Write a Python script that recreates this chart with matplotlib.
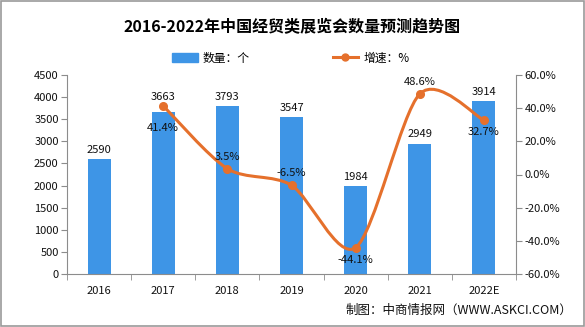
import matplotlib
matplotlib.use("Agg")
import matplotlib.pyplot as plt
from matplotlib.path import Path
from matplotlib.patches import PathPatch, Rectangle
from matplotlib.lines import Line2D
import numpy as np

plt.rcParams['font.family'] = ['Noto Sans CJK SC', 'DejaVu Sans']

years = ["2016", "2017", "2018", "2019", "2020", "2021", "2022E"]
counts = [2590, 3663, 3793, 3547, 1984, 2949, 3914]
growth = [None, 41.4, 3.5, -6.5, -44.1, 48.6, 32.7]
# vertical offset (points) of each growth label from its marker
growth_dy = [None, -12, 5, 5, -5, 5, -5]

bar_color = "#3E95E6"
line_color = "#E5702C"
axis_color = "#8C8C8C"


def smooth_path(xs, ys, k=7.0):
    # cardinal spline segments expressed as cubic bezier curves
    pts = np.column_stack([xs, ys])
    verts = [pts[0]]
    codes = [Path.MOVETO]
    n = len(pts)
    for i in range(n - 1):
        p0 = pts[i - 1] if i > 0 else pts[i]
        p1 = pts[i]
        p2 = pts[i + 1]
        p3 = pts[i + 2] if i + 2 < n else pts[i + 1]
        c1 = p1 + (p2 - p0) / k
        c2 = p2 - (p3 - p1) / k
        verts += [c1, c2, p2]
        codes += [Path.CURVE4] * 3
    return Path(verts, codes)


fig = plt.figure(figsize=(5.85, 3.27), dpi=100)
fig.patches.append(Rectangle((0.002, 0.003), 0.996, 0.994, transform=fig.transFigure,
                             fill=False, edgecolor="#9A9A9A", linewidth=1.2))

ax = fig.add_axes([67 / 585, 1 - 274 / 327, (516 - 67) / 585, (274 - 75) / 327])
x = np.arange(len(years))
ax.bar(x, counts, width=0.36, color=bar_color, zorder=2)
ax.set_xlim(-0.5, len(years) - 0.5)
ax.set_ylim(0, 4500)
ax.set_yticks(np.arange(0, 4501, 500))
ax.set_xticks(x)
ax.set_xticklabels(years)
ax.set_xticks(np.arange(-0.5, len(years), 1), minor=True)
ax.tick_params(axis="x", which="major", length=0, pad=9)
ax.tick_params(axis="x", which="minor", length=4, color=axis_color, direction="out")
ax.tick_params(axis="y", length=4, color=axis_color, direction="out", pad=2)
ax.tick_params(labelsize=8, labelcolor="#111111")
for side in ["top", "right"]:
    ax.spines[side].set_visible(False)
for side in ["left", "bottom"]:
    ax.spines[side].set_color(axis_color)

ax2 = ax.twinx()
ax2.set_ylim(-60, 60)
ax2.set_yticks(np.arange(-60, 61, 20))
ax2.set_yticklabels([f"{v:.1f}%" for v in np.arange(-60, 61, 20)])
ax2.tick_params(axis="y", length=4, color=axis_color, direction="out", pad=2,
                labelsize=8, labelcolor="#111111")
for side in ["top", "left", "bottom"]:
    ax2.spines[side].set_visible(False)
ax2.spines["right"].set_color(axis_color)

gx = [i for i, g in enumerate(growth) if g is not None]
gy = [g for g in growth if g is not None]
ax2.add_patch(PathPatch(smooth_path(gx, gy), fill=False, edgecolor=line_color,
                        linewidth=2.2, zorder=3))
ax2.plot(gx, gy, "o", color=line_color, markersize=5.5, zorder=4)

for i, c in enumerate(counts):
    top = c
    if i == 1:
        # keep the 2017 count clear of the growth marker
        top = max(c, (growth[i] + 60) / 120 * 4500)
    ax.annotate(str(c), (i, top), xytext=(0, 3), textcoords="offset points",
                ha="center", va="bottom", fontsize=8, color="#111111")

for i, g in enumerate(growth):
    if g is None:
        continue
    dy = growth_dy[i]
    ax2.annotate(f"{g:.1f}%", (i, g), xytext=(0, dy), textcoords="offset points",
                 ha="center", va="bottom" if dy > 0 else "top",
                 fontsize=8, color="#111111", zorder=5)

fig.text(0.5, 1 - 27 / 327, "2016-2022年中国经贸类展览会数量预测趋势图",
         ha="center", va="center", fontsize=11.5, fontweight="bold")

handles = [Rectangle((0, 0), 1, 1, color=bar_color),
           Line2D([], [], color=line_color, linewidth=2.2, marker="o", markersize=5)]
fig.legend(handles, ["数量：个", "增速：%"], loc="center", ncol=2,
           bbox_to_anchor=(0.497, 1 - 58 / 327), frameon=False, fontsize=8.5,
           handlelength=2.2, handleheight=0.8, columnspacing=7, handletextpad=0.4)

fig.text(572 / 585, 1 - 310 / 327, "制图：中商情报网（WWW.ASKCI.COM）",
         ha="right", va="center", fontsize=9, color="#111111")

fig.savefig("out.png", dpi=100)
